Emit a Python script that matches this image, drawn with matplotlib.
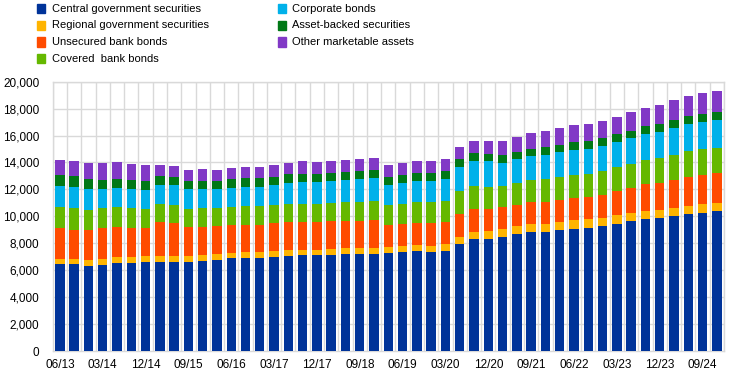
import numpy as np
import matplotlib
matplotlib.use("Agg")
import matplotlib.pyplot as plt
from matplotlib.patches import Rectangle

# ---------------------------------------------------------------------------
# Data (EUR billions) - quarterly, 06/13 .. 12/24
# ---------------------------------------------------------------------------
quarters = [f"{m:02d}/{y % 100:02d}" for y in range(2013, 2025) for m in (3, 6, 9, 12)][1:]

central_gov = [6450, 6450, 6300, 6370, 6520, 6520, 6600, 6600, 6600, 6600,
               6670, 6740, 6890, 6890, 6890, 6970, 7040, 7110, 7110, 7110,
               7190, 7190, 7190, 7260, 7340, 7410, 7340, 7410, 7930, 8300,
               8300, 8450, 8670, 8820, 8820, 8970, 9050, 9120, 9270, 9420,
               9640, 9790, 9860, 10010, 10160, 10230, 10380]
regional_gov = [370, 370, 440, 450, 450, 450, 440, 440, 440, 440,
                440, 450, 370, 450, 450, 440, 440, 370, 370, 450,
                440, 440, 440, 450, 440, 450, 440, 520, 520, 520,
                590, 590, 600, 600, 600, 600, 660, 670, 590, 670,
                590, 590, 600, 600, 600, 670, 600]
unsecured_bank = [2320, 2200, 2280, 2290, 2220, 2140, 2070, 2540, 2450, 2150,
                  2080, 2100, 2080, 2000, 2000, 2080, 2100, 2100, 2100, 2070,
                  2000, 2000, 2100, 1630, 1630, 1630, 1710, 1650, 1700, 1700,
                  1630, 1630, 1560, 1660, 1660, 1660, 1660, 1630, 1710, 1780,
                  1860, 2010, 2000, 2080, 2150, 2160, 2230]
covered_bank = [1530, 1580, 1480, 1490, 1480, 1490, 1410, 1310, 1330, 1330,
                1430, 1330, 1330, 1430, 1430, 1330, 1340, 1340, 1340, 1340,
                1440, 1440, 1390, 1480, 1480, 1580, 1580, 1540, 1710, 1730,
                1630, 1580, 1630, 1630, 1680, 1680, 1690, 1740, 1790, 1780,
                1790, 1780, 1860, 1860, 1930, 1930, 1860]
corporate = [1560, 1550, 1500, 1400, 1410, 1400, 1410, 1410, 1480, 1480,
             1380, 1380, 1410, 1380, 1380, 1480, 1530, 1600, 1600, 1630,
             1600, 1680, 1700, 1480, 1560, 1530, 1530, 1630, 1770, 1830,
             1930, 1680, 1790, 1760, 1790, 1860, 1860, 1830, 1860, 1860,
             1930, 1940, 1940, 2000, 2010, 2010, 2080]
asset_backed = [810, 820, 750, 670, 670, 670, 670, 670, 590, 600,
                600, 600, 670, 670, 670, 620, 690, 620, 600, 590,
                590, 590, 590, 590, 590, 590, 590, 590, 600, 590,
                520, 590, 540, 520, 590, 520, 590, 600, 590, 600,
                520, 590, 590, 600, 600, 590, 590]
other = [1110, 1110, 1180, 1260, 1250, 1190, 1180, 810, 820, 810,
         890, 810, 810, 810, 810, 860, 790, 940, 880, 890,
         890, 890, 890, 890, 890, 890, 890, 890, 890, 890,
         960, 1040, 1090, 1190, 1190, 1260, 1270, 1260, 1260, 1260,
         1410, 1340, 1410, 1490, 1480, 1570, 1560]

series = [
    ("Central government securities", central_gov, "#003399"),
    ("Regional government securities", regional_gov, "#FFB400"),
    ("Unsecured bank bonds", unsecured_bank, "#FF4B00"),
    ("Covered  bank bonds", covered_bank, "#65B800"),
    ("Corporate bonds", corporate, "#00B1EA"),
    ("Asset-backed securities", asset_backed, "#007816"),
    ("Other marketable assets", other, "#8139C6"),
]

# ---------------------------------------------------------------------------
# Plot
# ---------------------------------------------------------------------------
plt.rcParams["font.family"] = ["Liberation Sans", "DejaVu Sans"]
GRID = "#D9D9D9"

fig = plt.figure(figsize=(7.45, 3.78), dpi=100)
ax = fig.add_axes([0.0707, 0.0714, 0.9011, 0.7125])

x = np.arange(len(quarters))
bottom = np.zeros(len(quarters))
for name, vals, col in series:
    ax.bar(x, vals, bottom=bottom, width=0.66, color=col, zorder=3)
    bottom += np.array(vals)

ax.set_xlim(-0.5, len(quarters) - 0.5)
ax.set_ylim(0, 20000)
ax.set_yticks(np.arange(0, 20001, 2000))
ax.set_yticklabels([f"{v:,}" for v in range(0, 20001, 2000)])
ax.set_xticks(x[::3])
ax.set_xticklabels(quarters[::3])
ax.tick_params(axis="both", length=0, labelsize=8.5, colors="black")
ax.tick_params(axis="y", pad=9.5)
ax.tick_params(axis="x", pad=6)

# horizontal grid + vertical separators between categories
for v in range(2000, 20001, 2000):
    ax.axhline(v, color=GRID, lw=1.0, zorder=1)
for b in np.arange(-0.5, len(quarters), 1.0):
    ax.axvline(b, color=GRID, lw=1.0, zorder=1)
for s in ax.spines.values():
    s.set_color(GRID)
    s.set_linewidth(1.0)

# legend drawn by hand: two columns, squares + labels
col_x = [37 / 745, 278 / 745]
row_y = [8.5, 25.5, 42.0, 58.5]
for i, (name, vals, col) in enumerate(series):
    c, r = (0, i) if i < 4 else (1, i - 4)
    yc = 1 - row_y[r] / 378
    fig.patches.append(Rectangle((col_x[c], yc - 4.5 / 378), 7.5 / 745, 9 / 378,
                                 transform=fig.transFigure, color=col))
    fig.text(col_x[c] + 14.5 / 745, yc, name, va="center", ha="left", fontsize=8)

fig.savefig("out.png", dpi=100)
